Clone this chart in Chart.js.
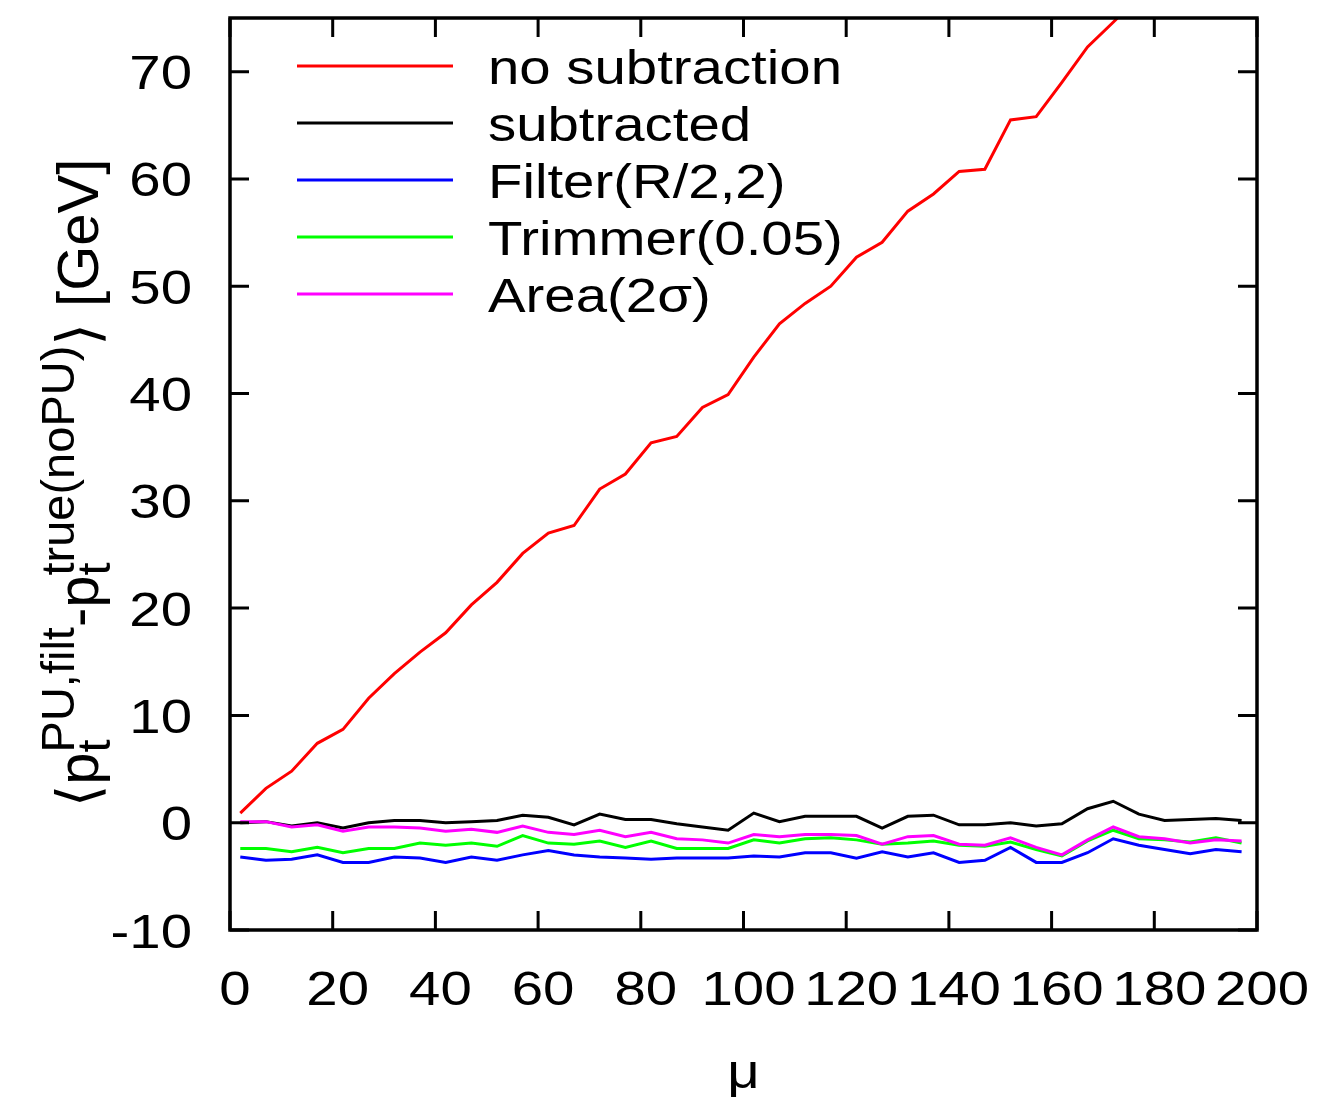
<!DOCTYPE html>
<html>
<head>
<meta charset="utf-8">
<script src="https://cdn.jsdelivr.net/npm/chart.js@4"></script>
<style>
  html, body { margin: 0; padding: 0; background: #fff; }
</style>
</head>
<body>
<canvas id="lineChart" width="1317" height="1102"></canvas>
<script>
// mu values (bin positions)
var mu = [2, 7, 12, 17, 22, 27, 32, 37, 42, 47, 52, 57, 62, 67, 72, 77, 82, 87, 92, 97,
  102, 107, 112, 117, 122, 127, 132, 137, 142, 147, 152, 157, 162, 167, 172, 177, 182, 187, 192, 197];

var noSubtraction = [0.9, 3.2, 4.8, 7.4, 8.7, 11.6, 13.9, 15.9, 17.7, 20.3, 22.4, 25.1, 27.0, 27.7, 31.1, 32.5, 35.4, 36.0, 38.7, 39.9,
  43.4, 46.5, 48.4, 50.0, 52.7, 54.1, 57.0, 58.6, 60.7, 60.9, 65.5, 65.8, 69.0, 72.3, 74.6, 77.0, 79.3, 81.5, 84.0, 86.2];
var subtracted = [0.0, 0.1, -0.3, 0.0, -0.5, 0.0, 0.2, 0.2, 0.0, 0.1, 0.2, 0.7, 0.5, -0.2, 0.8, 0.3, 0.3, -0.1, -0.4, -0.7,
  0.9, 0.1, 0.6, 0.6, 0.6, -0.5, 0.6, 0.7, -0.2, -0.2, 0.0, -0.3, -0.1, 1.3, 2.0, 0.8, 0.2, 0.3, 0.4, 0.2];
var filterR2 = [-3.2, -3.5, -3.4, -3.0, -3.7, -3.7, -3.2, -3.3, -3.7, -3.2, -3.5, -3.0, -2.6, -3.0, -3.2, -3.3, -3.4, -3.3, -3.3, -3.3,
  -3.1, -3.2, -2.8, -2.8, -3.3, -2.7, -3.2, -2.8, -3.7, -3.5, -2.3, -3.7, -3.7, -2.8, -1.5, -2.1, -2.5, -2.9, -2.5, -2.7];
var trimmer = [-2.4, -2.4, -2.7, -2.3, -2.8, -2.4, -2.4, -1.9, -2.1, -1.9, -2.2, -1.2, -1.9, -2.0, -1.7, -2.3, -1.7, -2.4, -2.4, -2.4,
  -1.6, -1.9, -1.5, -1.4, -1.6, -2.0, -1.9, -1.7, -2.1, -2.2, -1.8, -2.5, -3.1, -1.7, -0.7, -1.5, -1.6, -1.8, -1.4, -1.9];
var area2s = [0.1, 0.1, -0.4, -0.2, -0.8, -0.4, -0.4, -0.5, -0.8, -0.6, -0.9, -0.3, -0.9, -1.1, -0.7, -1.3, -0.9, -1.5, -1.6, -1.9,
  -1.1, -1.3, -1.1, -1.1, -1.2, -2.0, -1.3, -1.2, -2.0, -2.1, -1.4, -2.3, -3.0, -1.6, -0.4, -1.3, -1.5, -1.9, -1.6, -1.7];

var seriesLabels = ["no subtraction", "subtracted", "Filter(R/2,2)", "Trimmer(0.05)", "Area(2\u03c3)"];
var seriesColors = ["#ff0000", "#000000", "#0000ff", "#00ff00", "#ff00ff"];
var seriesValues = [noSubtraction, subtracted, filterR2, trimmer, area2s];

var xTicks = [0, 20, 40, 60, 80, 100, 120, 140, 160, 180, 200];
var yTicks = [-10, 0, 10, 20, 30, 40, 50, 60, 70];

var FONT = "'Liberation Sans', Arial, 'DejaVu Sans', sans-serif";
var SX = 1.15; // horizontal stretch of the glyphs in the original

function pts(vals) {
  return vals.map(function (v, i) { return { x: mu[i], y: v }; });
}

function stretchText(ctx, txt, x, y, align) {
  ctx.save();
  ctx.translate(x, y);
  ctx.scale(SX, 1);
  ctx.textAlign = align;
  ctx.textBaseline = "alphabetic";
  ctx.fillText(txt, 0, 0);
  ctx.restore();
}

var frameAndText = {
  id: "frameAndText",
  afterDraw: function (chart) {
    var ctx = chart.ctx;
    var a = chart.chartArea;
    var xs = chart.scales.x, ys = chart.scales.y;
    ctx.save();
    ctx.strokeStyle = "#000";
    ctx.fillStyle = "#000";

    // inward (mirrored) tick marks
    ctx.lineWidth = 3;
    ctx.beginPath();
    xTicks.forEach(function (t) {
      var px = xs.getPixelForValue(t);
      ctx.moveTo(px, a.bottom); ctx.lineTo(px, a.bottom - 19);
      ctx.moveTo(px, a.top); ctx.lineTo(px, a.top + 19);
    });
    yTicks.forEach(function (t) {
      var py = ys.getPixelForValue(t);
      ctx.moveTo(a.left, py); ctx.lineTo(a.left + 19, py);
      ctx.moveTo(a.right, py); ctx.lineTo(a.right - 19, py);
    });
    ctx.stroke();

    // frame
    ctx.lineWidth = 3.5;
    ctx.strokeRect(a.left, a.top, a.right - a.left, a.bottom - a.top);

    // tick labels
    ctx.font = "49px " + FONT;
    yTicks.forEach(function (t) {
      stretchText(ctx, String(t), a.left - 38, ys.getPixelForValue(t) + 17.5, "right");
    });
    xTicks.forEach(function (t) {
      stretchText(ctx, String(t), xs.getPixelForValue(t) + 5, a.bottom + 75, "center");
    });

    // x title
    stretchText(ctx, "\u03bc", (a.left + a.right) / 2, 1088, "center");

    // legend
    chart.data.datasets.forEach(function (ds, i) {
      var ly = 66 + i * 57;
      ctx.strokeStyle = ds.borderColor;
      ctx.lineWidth = 3;
      ctx.beginPath();
      ctx.moveTo(297, ly); ctx.lineTo(453, ly);
      ctx.stroke();
      ctx.fillStyle = "#000";
      stretchText(ctx, ds.label, 488, ly + 17.5, "left");
    });

    // y title, rotated, with sub/superscripts
    var parts = [
      { t: "\u27e8" }, { t: "p" }, { sub: "t", sup: "PU,filt" },
      { t: "-p" }, { sub: "t", sup: "true(noPU)" }, { t: "\u27e9 [GeV]" }
    ];
    var big = "58px " + FONT, small = "47px " + FONT;
    var total = 0;
    parts.forEach(function (p) {
      if (p.t) { ctx.font = big; p.w = ctx.measureText(p.t).width; }
      else {
        ctx.font = small;
        p.w = Math.max(ctx.measureText(p.sub).width, ctx.measureText(p.sup).width);
      }
      total += p.w;
    });
    ctx.save();
    ctx.translate(98, 483);
    ctx.rotate(-Math.PI / 2);
    ctx.fillStyle = "#000";
    ctx.textAlign = "left";
    ctx.textBaseline = "alphabetic";
    var cx = -total / 2;
    parts.forEach(function (p) {
      if (p.t) { ctx.font = big; ctx.fillText(p.t, cx, 0); }
      else {
        ctx.font = small;
        ctx.fillText(p.sub, cx, 12);
        ctx.fillText(p.sup, cx, -24);
      }
      cx += p.w;
    });
    ctx.restore();

    ctx.restore();
  }
};

var datasets = seriesLabels.map(function (lab, i) {
  return {
    label: lab,
    data: pts(seriesValues[i]),
    borderColor: seriesColors[i],
    backgroundColor: seriesColors[i],
    borderWidth: 3,
    pointRadius: 0,
    tension: 0,
    fill: false,
    clip: 0,
    order: seriesLabels.length - i
  };
});

var ctx = document.getElementById("lineChart").getContext("2d");
var myChart = new Chart(ctx, {
  type: "line",
  data: { datasets: datasets },
  options: {
    responsive: false,
    animation: false,
    devicePixelRatio: 1,
    layout: { padding: { top: 18, right: 60, left: 0, bottom: 0 } },
    plugins: { legend: { display: false }, tooltip: { enabled: false } },
    scales: {
      x: {
        type: "linear",
        min: 0,
        max: 200,
        ticks: { display: false, stepSize: 20 },
        grid: { display: false },
        border: { display: false },
        afterFit: function (s) { s.height = 172; }
      },
      y: {
        min: -10,
        max: 75,
        ticks: { display: false, stepSize: 10, includeBounds: false },
        grid: { display: false },
        border: { display: false },
        afterFit: function (s) { s.width = 230; }
      }
    }
  },
  plugins: [frameAndText]
});
</script>
</body>
</html>
